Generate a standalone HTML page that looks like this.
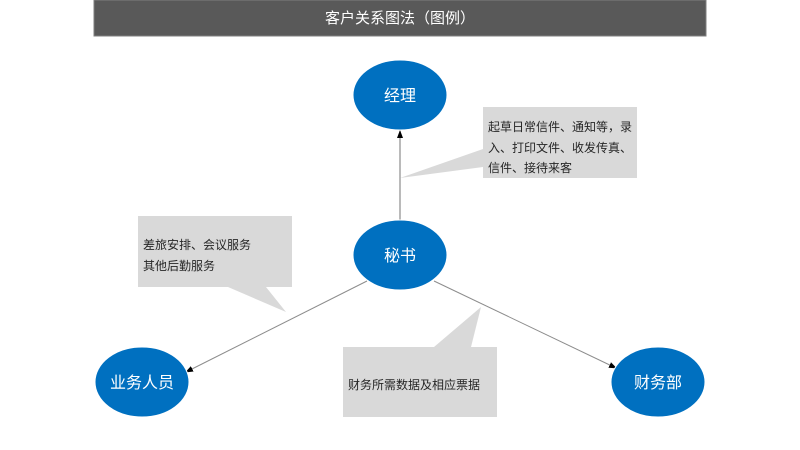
<!DOCTYPE html>
<html><head><meta charset="utf-8"><style>
html,body{margin:0;padding:0;background:#fff;width:800px;height:450px;overflow:hidden}
svg text{font-family:"Liberation Sans","Noto Sans CJK SC",sans-serif}
</style></head><body>
<svg width="800" height="450" viewBox="0 0 800 450" xmlns="http://www.w3.org/2000/svg">
<defs><marker id="a" markerWidth="8" markerHeight="8" refX="7" refY="4" orient="auto" markerUnits="userSpaceOnUse"><path d="M0,1 L8,4 L0,7 z" fill="#000"/></marker></defs>
<rect x="94" y="0" width="612" height="36" fill="#595959" stroke="#7f7f7f" stroke-width="1"/>
<text x="400" y="23" font-size="15" fill="#fff" text-anchor="middle">客户关系图法（图例）</text>
<!-- callouts -->
<path d="M483,107 H637 V178 H483 V167 L400,178 L483,149 Z" fill="#d9d9d9"/>
<text font-size="12" fill="#262626"><tspan x="488" y="131">起草日常信件、通知等，录</tspan><tspan x="488" y="152">入、打印文件、收发传真、</tspan><tspan x="488" y="172">信件、接待来客</tspan></text>
<path d="M138,216 H292 V287 H266 L286,312 L228,287 H138 Z" fill="#d9d9d9"/>
<text font-size="12" fill="#262626"><tspan x="143" y="249">差旅安排、会议服务</tspan><tspan x="143" y="270">其他后勤服务</tspan></text>
<path d="M343,347 H434 L481,307 L471,347 H497 V417 H343 Z" fill="#d9d9d9"/>
<text x="348" y="389" font-size="12" fill="#262626">财务所需数据及相应票据</text>
<!-- connectors -->
<line x1="400" y1="222" x2="400" y2="131" stroke="#8c8c8c" stroke-width="1.2" marker-end="url(#a)"/>
<line x1="367" y1="281" x2="186" y2="372" stroke="#8c8c8c" stroke-width="1" marker-end="url(#a)"/>
<line x1="434" y1="281" x2="616" y2="368" stroke="#8c8c8c" stroke-width="1" marker-end="url(#a)"/>
<!-- nodes -->
<g fill="#0070c0" stroke="#fff" stroke-width="1">
<ellipse cx="400" cy="95" rx="47" ry="35"/>
<ellipse cx="400" cy="255" rx="47" ry="35"/>
<ellipse cx="142" cy="382" rx="47" ry="35"/>
<ellipse cx="658" cy="382" rx="47" ry="35"/>
</g>
<g font-size="16" fill="#fff" text-anchor="middle">
<text x="400" y="101">经理</text>
<text x="400" y="261">秘书</text>
<text x="142" y="388">业务人员</text>
<text x="658" y="388">财务部</text>
</g>
</svg>
</body></html>
